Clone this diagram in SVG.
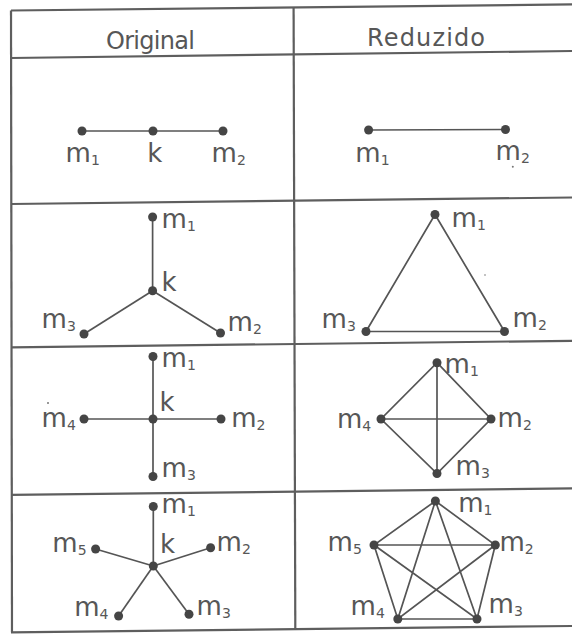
<svg xmlns="http://www.w3.org/2000/svg" width="572" height="637" viewBox="0 0 572 637">
<style>
.grid{stroke:#5e5e5e;stroke-width:2.2;fill:none}
.e{stroke:#555;stroke-width:1.7;fill:none}
.d{fill:#454545}
.s{fill:#777}
text{font-family:"DejaVu Sans","Liberation Sans",sans-serif;fill:#575757}
.h{font-size:24px}
.l{font-size:26px}
.sub{font-size:14px}
</style>
<rect width="572" height="637" fill="#ffffff"/>
<g id="table">
<line class="grid" x1="11" y1="10.5" x2="572" y2="4.4"/>
<line class="grid" x1="11" y1="58" x2="572" y2="51"/>
<line class="grid" x1="11" y1="204" x2="572" y2="197.5"/>
<line class="grid" x1="11" y1="347.3" x2="572" y2="340.8"/>
<line class="grid" x1="11" y1="494.9" x2="572" y2="488.4"/>
<line class="grid" x1="11" y1="632.3" x2="572" y2="626"/>
<line class="grid" x1="11" y1="10.5" x2="12" y2="632.3"/>
<line class="grid" x1="293.6" y1="7.5" x2="295.3" y2="629.3"/>
<text class="h" x="106" y="48.5" textLength="89" lengthAdjust="spacing">Original</text>
<text class="h" x="367" y="46" textLength="118" lengthAdjust="spacing">Reduzido</text>
</g>
<g id="connectors">
<line class="e" x1="82" y1="131" x2="223" y2="131"/>
<line class="e" x1="368.6" y1="130" x2="505.5" y2="129.5"/>
<line class="e" x1="152.6" y1="290.7" x2="152.6" y2="217"/>
<line class="e" x1="152.6" y1="290.7" x2="220.5" y2="333"/>
<line class="e" x1="152.6" y1="290.7" x2="84" y2="334"/>
<polygon class="e" points="435,214.5 504.5,331.5 366,331.5"/>
<line class="e" x1="153" y1="356.5" x2="153" y2="476.5"/>
<line class="e" x1="84" y1="419" x2="221" y2="419"/>
<polygon class="e" points="437,362.7 491,419 437,473.5 381,419"/>
<line class="e" x1="437" y1="362.7" x2="437" y2="473.5"/>
<line class="e" x1="381" y1="419" x2="491" y2="419"/>
<line class="e" x1="153.3" y1="566" x2="153.3" y2="506.5"/>
<line class="e" x1="153.3" y1="566" x2="210.6" y2="547.7"/>
<line class="e" x1="153.3" y1="566" x2="189" y2="614.3"/>
<line class="e" x1="153.3" y1="566" x2="118.6" y2="616"/>
<line class="e" x1="153.3" y1="566" x2="95.6" y2="549"/>
<polygon class="e" points="435.4,501 495.3,545 477,619 397.8,619 374,545"/>
<polygon class="e" points="435.4,501 477,619 374,545 495.3,545 397.8,619"/>
</g>
<g id="r1-orig">
<g id="r1o-m1"><circle class="d" cx="82" cy="131" r="4.5"/><text class="l" x="65.6" y="162">m<tspan class="sub" dy="3">1</tspan></text></g>
<g id="r1o-k"><circle class="d" cx="153" cy="131" r="4.5"/><text class="l" x="147.2" y="162">k</text></g>
<g id="r1o-m2"><circle class="d" cx="223" cy="131" r="4.5"/><text class="l" x="211.6" y="162">m<tspan class="sub" dy="3">2</tspan></text></g>
</g>
<g id="r1-red">
<g id="r1r-m1"><circle class="d" cx="368.6" cy="130" r="4.5"/><text class="l" x="355.3" y="162">m<tspan class="sub" dy="3">1</tspan></text></g>
<g id="r1r-m2"><circle class="d" cx="505.5" cy="129.5" r="4.5"/><text class="l" x="495.6" y="160">m<tspan class="sub" dy="3">2</tspan></text></g>
</g>
<g id="r2-orig">
<g id="r2o-m1"><circle class="d" cx="152.6" cy="217" r="4.5"/><text class="l" x="161.6" y="228">m<tspan class="sub" dy="3">1</tspan></text></g>
<g id="r2o-k"><circle class="d" cx="152.6" cy="290.7" r="4.5"/><text class="l" x="161.6" y="291">k</text></g>
<g id="r2o-m2"><circle class="d" cx="220.5" cy="333" r="4.5"/><text class="l" x="227.6" y="331">m<tspan class="sub" dy="3">2</tspan></text></g>
<g id="r2o-m3"><circle class="d" cx="84" cy="334" r="4.5"/><text class="l" x="41.6" y="328">m<tspan class="sub" dy="3">3</tspan></text></g>
</g>
<g id="r2-red">
<g id="r2r-m1"><circle class="d" cx="435" cy="214.5" r="4.5"/><text class="l" x="451.6" y="226.7">m<tspan class="sub" dy="3">1</tspan></text></g>
<g id="r2r-m2"><circle class="d" cx="504.5" cy="331.5" r="4.5"/><text class="l" x="512.6" y="327">m<tspan class="sub" dy="3">2</tspan></text></g>
<g id="r2r-m3"><circle class="d" cx="366" cy="331.5" r="4.5"/><text class="l" x="321.6" y="328">m<tspan class="sub" dy="3">3</tspan></text></g>
</g>
<g id="r3-orig">
<g id="r3o-m1"><circle class="d" cx="153" cy="356.5" r="4.5"/><text class="l" x="161.6" y="367">m<tspan class="sub" dy="3">1</tspan></text></g>
<g id="r3o-k"><circle class="d" cx="153" cy="419" r="4.5"/><text class="l" x="159.6" y="411">k</text></g>
<g id="r3o-m2"><circle class="d" cx="221" cy="419" r="4.5"/><text class="l" x="231.2" y="427">m<tspan class="sub" dy="3">2</tspan></text></g>
<g id="r3o-m3"><circle class="d" cx="153" cy="476.5" r="4.5"/><text class="l" x="161.6" y="477">m<tspan class="sub" dy="3">3</tspan></text></g>
<g id="r3o-m4"><circle class="d" cx="84" cy="419" r="4.5"/><text class="l" x="41.6" y="427">m<tspan class="sub" dy="3">4</tspan></text></g>
</g>
<g id="r3-red">
<g id="r3r-m1"><circle class="d" cx="437" cy="362.7" r="4.5"/><text class="l" x="444.6" y="373">m<tspan class="sub" dy="3">1</tspan></text></g>
<g id="r3r-m2"><circle class="d" cx="491" cy="419" r="4.5"/><text class="l" x="497.6" y="427">m<tspan class="sub" dy="3">2</tspan></text></g>
<g id="r3r-m3"><circle class="d" cx="437" cy="473.5" r="4.5"/><text class="l" x="455.6" y="475">m<tspan class="sub" dy="3">3</tspan></text></g>
<g id="r3r-m4"><circle class="d" cx="381" cy="419" r="4.5"/><text class="l" x="337" y="428">m<tspan class="sub" dy="3">4</tspan></text></g>
</g>
<g id="r4-orig">
<g id="r4o-m1"><circle class="d" cx="153.3" cy="506.5" r="4.5"/><text class="l" x="161.6" y="513">m<tspan class="sub" dy="3">1</tspan></text></g>
<g id="r4o-k"><circle class="d" cx="153.3" cy="566" r="4.5"/><text class="l" x="160" y="553">k</text></g>
<g id="r4o-m2"><circle class="d" cx="210.6" cy="547.7" r="4.5"/><text class="l" x="216.6" y="551">m<tspan class="sub" dy="3">2</tspan></text></g>
<g id="r4o-m3"><circle class="d" cx="189" cy="614.3" r="4.5"/><text class="l" x="196.6" y="615">m<tspan class="sub" dy="3">3</tspan></text></g>
<g id="r4o-m4"><circle class="d" cx="118.6" cy="616" r="4.5"/><text class="l" x="74.2" y="616">m<tspan class="sub" dy="3">4</tspan></text></g>
<g id="r4o-m5"><circle class="d" cx="95.6" cy="549" r="4.5"/><text class="l" x="52.3" y="552">m<tspan class="sub" dy="3">5</tspan></text></g>
</g>
<g id="r4-red">
<g id="r4r-m1"><circle class="d" cx="435.4" cy="501" r="4.5"/><text class="l" x="458.2" y="512">m<tspan class="sub" dy="3">1</tspan></text></g>
<g id="r4r-m2"><circle class="d" cx="495.3" cy="545" r="4.5"/><text class="l" x="499.4" y="551">m<tspan class="sub" dy="3">2</tspan></text></g>
<g id="r4r-m3"><circle class="d" cx="477" cy="619" r="4.5"/><text class="l" x="488.6" y="613">m<tspan class="sub" dy="3">3</tspan></text></g>
<g id="r4r-m4"><circle class="d" cx="397.8" cy="619" r="4.5"/><text class="l" x="350.6" y="615">m<tspan class="sub" dy="3">4</tspan></text></g>
<g id="r4r-m5"><circle class="d" cx="374" cy="545" r="4.5"/><text class="l" x="327.6" y="551">m<tspan class="sub" dy="3">5</tspan></text></g>
</g>
<g id="specks">
<circle class="s" cx="512.8" cy="166.7" r="1"/>
<circle class="s" cx="485" cy="275" r="0.8"/>
<circle class="s" cx="48" cy="403" r="1"/>
</g>
</svg>
